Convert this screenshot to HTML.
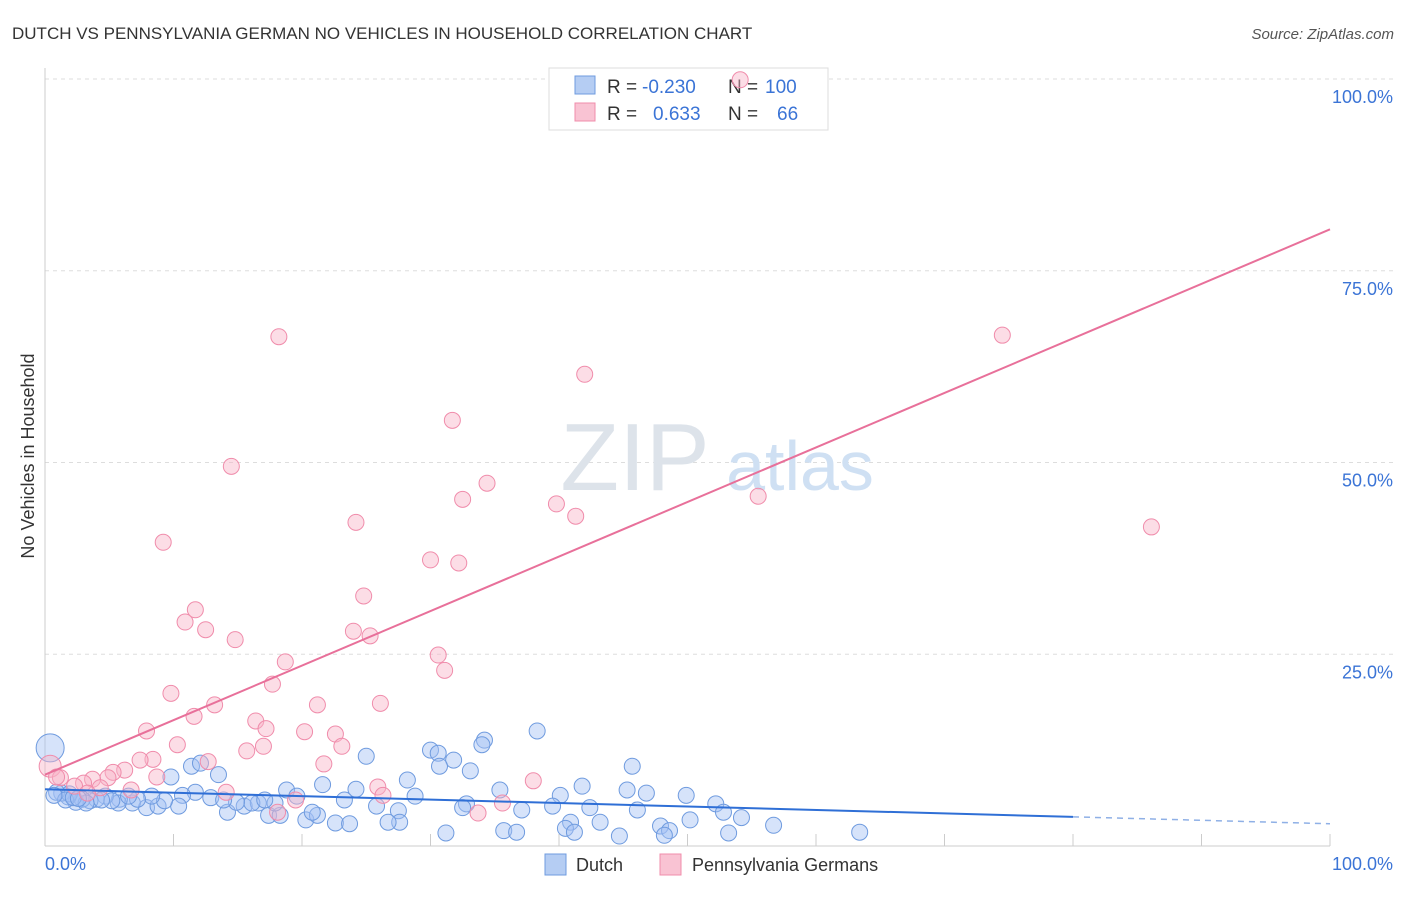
<!DOCTYPE html>
<html><head><meta charset="utf-8"><style>
body{margin:0;background:#fff;font-family:"Liberation Sans",sans-serif}
svg text{font-family:"Liberation Sans",sans-serif}
</style></head><body>
<svg width="1406" height="892" xmlns="http://www.w3.org/2000/svg">
<text x="12" y="39" font-size="17" fill="#333">DUTCH VS PENNSYLVANIA GERMAN NO VEHICLES IN HOUSEHOLD CORRELATION CHART</text>
<text x="1394" y="39" font-size="15" fill="#555" text-anchor="end" font-style="italic">Source: ZipAtlas.com</text>
<g id="grid"></g>
<text x="635" y="490" font-size="96" fill="#dde3ea" font-family="Liberation Serif" text-anchor="middle">ZIP</text>
<text x="800" y="490" font-size="70" fill="#cfe0f3" text-anchor="middle">atlas</text>
<g>
<rect x="549" y="68" width="279" height="62" fill="#fff" stroke="#ddd"/>
<rect x="575" y="76" width="20" height="18" fill="#b5cdf3" stroke="#6f9bdf"/>
<rect x="575" y="103" width="20" height="18" fill="#f9c3d3" stroke="#f08cab"/>
<text x="607" y="93" font-size="19" fill="#333">R =</text>
<text x="642" y="93" font-size="19" fill="#3b74d6">-0.230</text>
<text x="728" y="93" font-size="19" fill="#333">N =</text>
<text x="765" y="93" font-size="19" fill="#3b74d6">100</text>
<text x="607" y="120" font-size="19" fill="#333">R =</text>
<text x="653" y="120" font-size="19" fill="#3b74d6">0.633</text>
<text x="728" y="120" font-size="19" fill="#333">N =</text>
<text x="777" y="120" font-size="19" fill="#3b74d6">66</text>
</g>
<g id="pts"></g>
<g id="lines"></g>
<text transform="translate(34,456) rotate(-90)" font-size="18" fill="#333" text-anchor="middle">No Vehicles in Household</text>
<text x="45" y="870" font-size="18" fill="#3b74d6">0.0%</text>
<text x="1393" y="870" font-size="18" fill="#3b74d6" text-anchor="end">100.0%</text>
<g>
<rect x="545" y="854" width="21" height="21" fill="#b5cdf3" stroke="#6f9bdf"/>
<text x="576" y="871" font-size="18" fill="#333">Dutch</text>
<rect x="660" y="854" width="21" height="21" fill="#f9c3d3" stroke="#f08cab"/>
<text x="692" y="871" font-size="18" fill="#333">Pennsylvania Germans</text>
</g>
</svg>
<script>
const yTicks=[25,50,75,100];
const yTickLabels=["25.0%","50.0%","75.0%","100.0%"];
const dutchX=[0.4,38.3,34.2,34.0,25.0,30.0,30.6,31.8,30.7,11.4,12.1,45.7,33.1,13.5,9.8,28.2,21.6,41.8,24.2,18.8,35.4,45.3,46.8,49.9,11.7,10.7,19.6,28.8,40.1,52.2,42.4,39.5,32.8,32.5,25.8,23.3,27.5,37.1,46.1,52.8,54.2,50.2,40.9,43.2,56.7,47.9,48.6,40.5,35.7,36.7,31.2,41.2,44.7,53.2,48.2,63.4,20.3,22.6,23.7,21.2,27.6,26.7,20.8,17.4,18.3,14.2,15.5,16.6,16.1,14.9,17.9,12.9,13.9,17.1,7.9,8.8,10.4,9.3,6.8,8.3,5.8,5.7,7.2,4.7,4.0,3.5,2.9,2.4,1.8,1.3,0.9,1.9,3.2,5.2,6.5,4.4,1.6,2.2,0.7,2.6];
const dutchY=[12.8,15.0,13.8,13.2,11.7,12.5,12.1,11.2,10.4,10.4,10.8,10.4,9.8,9.3,9.0,8.6,8.0,7.8,7.4,7.3,7.3,7.3,6.9,6.6,7.0,6.6,6.5,6.5,6.6,5.5,5.0,5.2,5.5,5.0,5.2,6.0,4.6,4.7,4.7,4.4,3.7,3.4,3.1,3.1,2.7,2.6,2.0,2.3,2.0,1.8,1.7,1.8,1.3,1.7,1.4,1.8,3.4,3.0,2.9,4.0,3.1,3.1,4.4,4.0,4.0,4.4,5.2,5.6,5.6,5.7,5.6,6.3,6.0,6.0,5.0,5.2,5.2,5.9,5.6,6.5,6.1,5.6,6.1,6.5,6.1,5.9,6.1,5.7,6.4,6.9,7.0,6.8,5.6,5.9,6.5,6.0,6.0,6.3,6.6,6.2];
const pennX=[18.2,74.5,42.0,31.7,14.5,34.4,32.5,55.5,39.8,41.3,24.2,86.1,9.2,30.0,32.2,24.8,11.7,10.9,12.5,24.0,25.3,14.8,18.7,30.6,31.1,17.7,9.8,21.2,26.1,13.2,11.6,16.4,17.2,7.9,20.2,22.6,23.1,10.3,17.0,15.7,12.7,8.4,7.4,21.7,6.2,5.3,0.4,4.9,8.7,3.7,3.0,1.2,38.0,25.9,2.3,4.3,6.7,14.1,26.3,19.5,35.6,33.7,54.1,0.9,3.3,18.1];
const pennY=[66.4,66.6,61.5,55.5,49.5,47.3,45.2,45.6,44.6,43.0,42.2,41.6,39.6,37.3,36.9,32.6,30.8,29.2,28.2,28.0,27.4,26.9,24.0,24.9,22.9,21.1,19.9,18.4,18.6,18.4,16.9,16.3,15.3,15.0,14.9,14.6,13.0,13.2,13.0,12.4,11.0,11.3,11.2,10.7,9.9,9.6,10.4,8.9,9.0,8.7,8.2,8.9,8.5,7.7,7.8,7.6,7.3,7.0,6.6,6.0,5.6,4.3,99.9,9.0,6.9,4.4];
const dutchTrend=[7.4,2.9];
const pennTrend=[9.3,80.4];
const X=v=>45+v*12.85, Y=v=>846-v*7.67;
const NS="http://www.w3.org/2000/svg";
function mk(tag,attrs,parent){const e=document.createElementNS(NS,tag);for(const k in attrs)e.setAttribute(k,attrs[k]);parent.appendChild(e);return e;}
const g=document.getElementById('grid');
yTicks.forEach((t,i)=>{
 const l=mk('line',{x1:45,x2:1393,y1:Y(t),y2:Y(t),stroke:'#ddd','stroke-dasharray':'4,4'},g);
 
 
 const tx=mk('text',{x:1393,y:Y(t)+24,'font-size':18,fill:'#3b74d6','text-anchor':'end'},g);
 tx.textContent=yTickLabels[i];
 
 
});
const ax=mk('line',{x1:45,x2:45,y1:68,y2:846,stroke:'#ccc'},g);


const bx=mk('line',{x1:45,x2:1330,y1:846,y2:846,stroke:'#ccc'},g);


for(let i=1;i<=10;i++){const t=mk('line',{x1:X(i*10),x2:X(i*10),y1:834,y2:846,stroke:'#ccc'},g);
 
 }
const p=document.getElementById('pts');
dutchX.forEach((v,i)=>{const c=mk('circle',{cx:X(v),cy:Y(dutchY[i]),r:i==0?14:8,fill:'rgba(164,194,244,0.45)',stroke:'#6f9bdf','stroke-width':1},p);
 
 });
pennX.forEach((v,i)=>{const c=mk('circle',{cx:X(v),cy:Y(pennY[i]),r:i==46?11:8,fill:'rgba(248,180,200,0.45)',stroke:'#f08cab','stroke-width':1},p);
 
 });
const L=document.getElementById('lines');
const dm=dutchTrend[0]+(dutchTrend[1]-dutchTrend[0])*0.8;
const d1=mk('line',{x1:X(0),y1:Y(dutchTrend[0]),x2:X(80),y2:Y(dm),stroke:'#2f6fd6','stroke-width':2},L);


const d2=mk('line',{x1:X(80),y1:Y(dm),x2:X(100),y2:Y(dutchTrend[1]),stroke:'#8fb0e6','stroke-width':1.5,'stroke-dasharray':'6,5'},L);


const p1=mk('line',{x1:X(0),y1:Y(pennTrend[0]),x2:X(100),y2:Y(pennTrend[1]),stroke:'#e8709a','stroke-width':2},L);


</script>
</body></html>
